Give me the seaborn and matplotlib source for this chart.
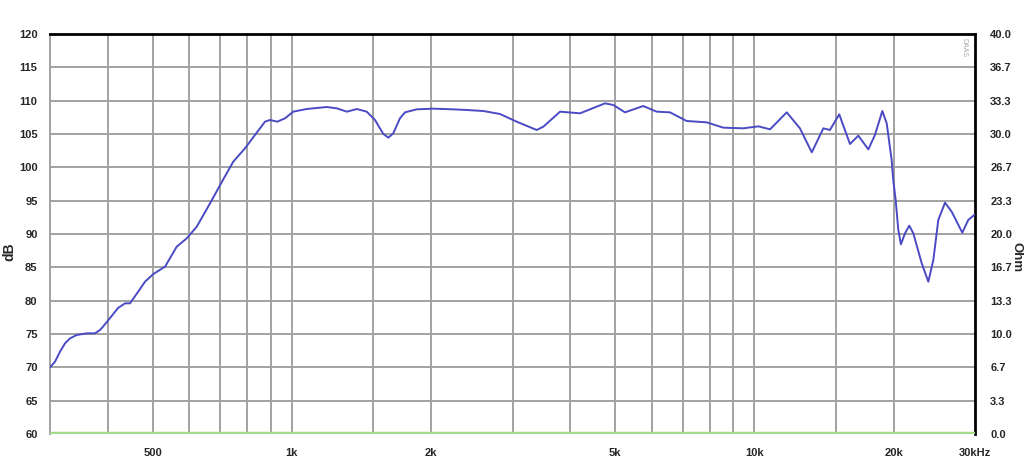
import numpy as np
import pandas as pd
import matplotlib
matplotlib.use("Agg")
import matplotlib.pyplot as plt
import seaborn as sns

# frequency response (Hz, dB)
freq_hz = [300, 307.6, 315.3, 323.3, 331.4, 342.7, 360.2, 375.4, 384.8, 390.6,
           404.5, 420.9, 435.9, 446.8, 462.7, 481.5, 501.9, 531.9, 563.8, 592.6,
           622.9, 665.5, 710.9, 747.1, 791.9, 832.4, 874.9, 897, 930.2, 966.5,
           1007, 1077, 1190, 1251, 1315, 1382, 1452, 1513, 1577, 1617,
           1657, 1713, 1757, 1862, 2023, 2234, 2388, 2594, 2819, 3063,
           3384, 3498, 3802, 4198, 4340, 4755, 4956, 5252, 5751, 6150,
           6571, 7140, 7890, 8568, 9465, 10200, 10815, 11750, 12550, 13310,
           14100, 14570, 15260, 16100, 16780, 17640, 18230, 18910, 19330, 19810,
           19970, 20210, 20480, 20750, 21170, 21630, 22070, 23010, 23780, 24380,
           24990, 25840, 26710, 28160, 29010, 30000]
spl_db = [70.0, 70.85, 72.35, 73.6, 74.35, 74.85, 75.1, 75.1, 75.6, 76.1,
          77.4, 78.9, 79.6, 79.6, 81.1, 82.85, 84.0, 85.1, 88.1, 89.35,
          91.1, 94.6, 98.2, 100.85, 102.85, 104.85, 106.85, 107.1, 106.85, 107.35,
          108.35, 108.75, 109.05, 108.85, 108.35, 108.75, 108.35, 107.1, 105.0, 104.45,
          105.1, 107.35, 108.25, 108.7, 108.8, 108.7, 108.6, 108.45, 108.0, 106.85,
          105.6, 106.1, 108.35, 108.1, 108.5, 109.6, 109.35, 108.25, 109.2, 108.35,
          108.25, 106.95, 106.75, 105.95, 105.85, 106.15, 105.7, 108.25, 105.85, 102.25,
          105.85, 105.6, 107.95, 103.5, 104.75, 102.7, 104.85, 108.45, 106.6, 101.1,
          98.1, 95.1, 90.6, 88.45, 90.1, 91.25, 90.1, 85.6, 82.85, 86.1,
          92.1, 94.7, 93.35, 90.2, 92.1, 92.95]

# axis setup
db_ticks = list(range(60, 125, 5))
ohm_ticks = [0.0, 3.3, 6.7, 10.0, 13.3, 16.7, 20.0, 23.3, 26.7, 30.0, 33.3, 36.7, 40.0]
grid_freqs = [400, 500, 600, 700, 800, 900, 1000, 1500, 2000, 3000, 4000, 5000,
              6000, 7000, 8000, 9000, 10000, 15000, 20000]
label_freqs = [500, 1000, 2000, 5000, 10000, 20000, 30000]
label_text = ["500", "1k", "2k", "5k", "10k", "20k", "30kHz"]

sns.set_style("white")
plt.rcParams["font.family"] = ["Liberation Sans", "DejaVu Sans"]

fig = plt.figure(figsize=(10.24, 4.61), dpi=100)
ax = fig.add_axes([50 / 1024, 27 / 461, 925 / 1024, 400 / 461])

df = pd.DataFrame({"freq": freq_hz, "db": spl_db})
sns.lineplot(data=df, x="freq", y="db", ax=ax, color="#4a4ac4", linewidth=1.4,
             zorder=5)

ax.set_xscale("log")
ax.set_xlim(300, 30000)
ax.set_ylim(60, 120)

# grid
for y in db_ticks[1:-1]:
    ax.axhline(y, color="#a2a2a2", lw=1.4, zorder=1)
for f in grid_freqs:
    ax.axvline(f, color="#a2a2a2", lw=1.4, zorder=1)

# green impedance trace at the floor
ax.axhline(60, color="#a3db8a", lw=3.2, zorder=4)

ax.set_yticks(db_ticks)
ax.set_yticklabels([str(t) for t in db_ticks], fontsize=8, fontweight="bold")
ax.set_xticks(label_freqs)
ax.set_xticklabels(label_text, fontsize=8, fontweight="bold")
ax.xaxis.set_minor_locator(matplotlib.ticker.NullLocator())
ax.tick_params(axis="both", length=0)
ax.tick_params(axis="y", pad=9)
ax.tick_params(axis="x", pad=10)
ax.set_xlabel("")
ax.set_ylabel("")

ax.spines["top"].set_color("black")
ax.spines["top"].set_linewidth(2)
ax.spines["right"].set_color("black")
ax.spines["right"].set_linewidth(2)
ax.spines["left"].set_color("#a2a2a2")
ax.spines["left"].set_linewidth(1.4)
ax.spines["bottom"].set_visible(False)

ax2 = ax.twinx()
ax2.set_ylim(0, 40)
ax2.set_yticks([i * 40 / 12 for i in range(13)])
ax2.set_yticklabels([f"{t:.1f}" for t in ohm_ticks], fontsize=8, fontweight="bold")
ax2.tick_params(axis="y", length=0, pad=11)
for s in ax2.spines.values():
    s.set_visible(False)

# axis titles
fig.text(9 / 1024, 1 - 252 / 461, "dB", rotation=90, fontsize=10,
         fontweight="bold", ha="center", va="center")
fig.text(1017 / 1024, 1 - 257 / 461, "Ohm", rotation=270, fontsize=9.5,
         fontweight="bold", ha="center", va="center")

# small watermark in the corner
ax.text(0.992, 0.99, "DAAS", transform=ax.transAxes, rotation=270,
        fontsize=5, color="#aaaaaa", ha="right", va="top")

fig.savefig("out.png", dpi=100)
